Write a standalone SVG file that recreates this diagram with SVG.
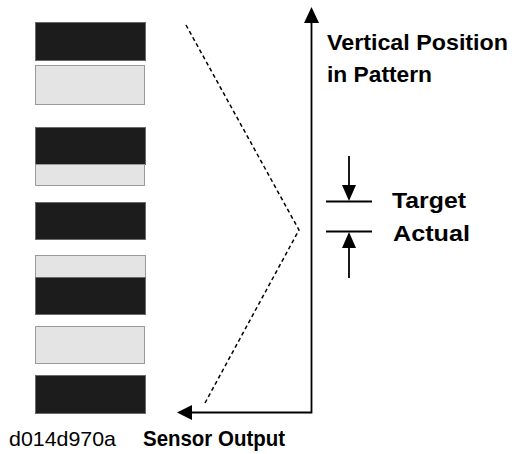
<svg xmlns="http://www.w3.org/2000/svg" width="514" height="454" viewBox="0 0 514 454">
<style>
.dark{fill:#1c1c1c;stroke:#6a6a6a;stroke-width:1}
.light{fill:#e4e4e4;stroke:#9a9a9a;stroke-width:1}
.ln{stroke:#000;stroke-width:1.8;fill:none}
.dash{stroke:#000;stroke-width:1.5;fill:none;stroke-dasharray:4 3}
.hd{fill:#000}
.lb{font-family:"Liberation Sans",Arial,sans-serif;font-weight:bold;font-size:22px;fill:#000}
.id{font-family:"Liberation Sans",Arial,sans-serif;font-size:21px;fill:#000}
</style>
<rect width="514" height="454" fill="#fff"/>
<g id="pattern">
<rect class="dark" x="35.5" y="22.5" width="110" height="38"/>
<rect class="light" x="35.5" y="65.5" width="109" height="39"/>
<rect class="dark" x="35.5" y="127.5" width="110" height="37"/>
<rect class="light" x="35.5" y="164.5" width="109" height="21"/>
<rect class="dark" x="35.5" y="202.5" width="110" height="37"/>
<rect class="light" x="35.5" y="255.5" width="110" height="22"/>
<rect class="dark" x="35.5" y="277.5" width="110" height="37"/>
<rect class="light" x="35.5" y="326.5" width="109" height="37"/>
<rect class="dark" x="35.5" y="375.5" width="110" height="38"/>
</g>
<g id="connectors">
<polyline class="dash" points="186,25 299,230 205,403"/>
<polyline class="ln" points="311.5,21 311.5,412.5 191,412.5"/>
<polygon class="hd" points="311.5,7 304,23 319,23"/>
<polygon class="hd" points="177,412.5 192,405 192,420"/>
<line class="ln" x1="326" y1="201.5" x2="372" y2="201.5"/>
<line class="ln" x1="326" y1="231.5" x2="372" y2="231.5"/>
<line class="ln" x1="349" y1="156" x2="349" y2="187"/>
<polygon class="hd" points="349,201 342,185 356,185"/>
<line class="ln" x1="349" y1="246" x2="349" y2="278"/>
<polygon class="hd" points="349,232 342,248 356,248"/>
</g>
<g id="labels">
<text class="lb" x="327" y="49.5" textLength="181" lengthAdjust="spacingAndGlyphs">Vertical Position</text>
<text class="lb" x="327" y="81.5" textLength="105" lengthAdjust="spacingAndGlyphs">in Pattern</text>
<text class="lb" x="392" y="208" textLength="74" lengthAdjust="spacingAndGlyphs">Target</text>
<text class="lb" x="393" y="241" textLength="77" lengthAdjust="spacingAndGlyphs">Actual</text>
<text class="lb" x="143" y="446" textLength="142" lengthAdjust="spacingAndGlyphs">Sensor Output</text>
<text class="id" x="9" y="446" textLength="107" lengthAdjust="spacingAndGlyphs">d014d970a</text>
</g>
</svg>
